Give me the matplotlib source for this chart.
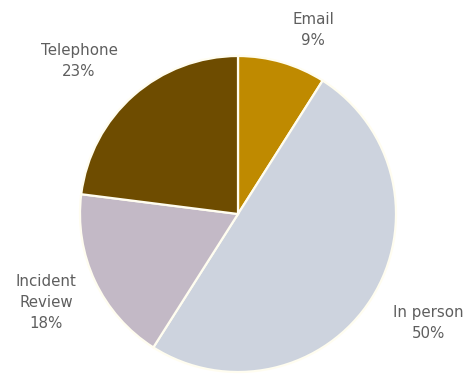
import matplotlib
matplotlib.use("Agg")
import matplotlib.pyplot as plt

# data
categories = ["Email", "In person", "Incident\nReview", "Telephone"]
shares = [9, 50, 18, 23]
colors = ["#BF8A00", "#CDD3DE", "#C3B9C6", "#6E4C00"]

# label block centres (layout only, in pie-radius units)
label_pos = [(0.475, 1.165), (1.203, -0.69), (-1.215, -0.563), (-1.006, 0.968)]

fig = plt.figure(figsize=(4.70, 3.79), dpi=100)
ax = fig.add_axes([0, 0, 1, 1])

ax.pie(shares, colors=colors, startangle=90, counterclock=False, radius=1,
       wedgeprops=dict(edgecolor="#FFFDF0", linewidth=1.6))

for name, val, (x, y) in zip(categories, shares, label_pos):
    ax.text(x, y, f"{name}\n{val}%", ha="center", va="center",
            fontsize=10.8, color="#5E5E5E", linespacing=1.5,
            family="DejaVu Sans")

# 158 px per unit, pie centre at (238, 214) px
ax.set_xlim(-238 / 158, (470 - 238) / 158)
ax.set_ylim(-(379 - 214) / 158, 214 / 158)
ax.set_aspect("auto")
ax.axis("off")

fig.savefig("out.png", dpi=100)
